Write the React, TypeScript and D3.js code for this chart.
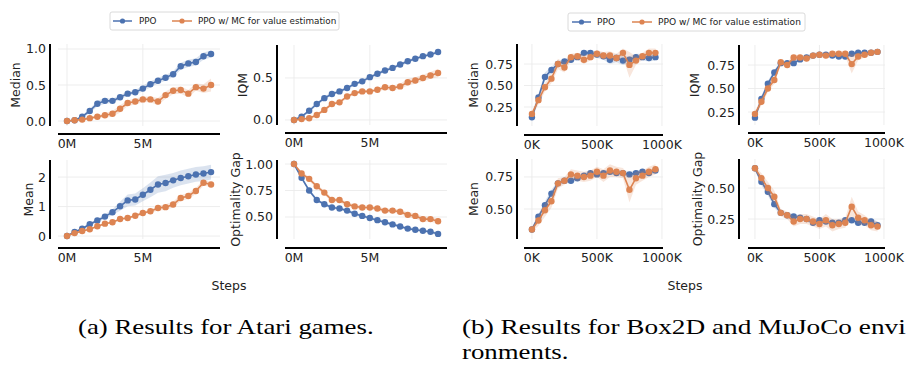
import React from 'react';
import * as d3 from 'd3';

const BLUE = '#4C72B0';
const ORANGE = '#DD8452';

// ---------- data ----------
const atariSteps = [0, 0.5, 1, 1.5, 2, 2.5, 3, 3.5, 4, 4.5, 5, 5.5, 6, 6.5, 7, 7.5, 8, 8.5, 9, 9.5];
const boxSteps = [0, 50, 100, 150, 200, 250, 300, 350, 400, 450, 500, 550, 600, 650, 700, 750, 800, 850, 900, 950];

const seriesNames = ['PPO', 'PPO w/ MC for value estimation'];

const atariMedianPPO = [0.0, 0.01, 0.06, 0.14, 0.24, 0.28, 0.28, 0.33, 0.38, 0.4, 0.45, 0.51, 0.56, 0.6, 0.65, 0.76, 0.8, 0.82, 0.9, 0.93];
const atariMedianPPOErr = [0.01, 0.01, 0.02, 0.03, 0.04, 0.04, 0.03, 0.03, 0.03, 0.03, 0.04, 0.04, 0.04, 0.04, 0.04, 0.05, 0.05, 0.05, 0.05, 0.05];
const atariMedianMC = [0.0, 0.01, 0.02, 0.04, 0.06, 0.08, 0.1, 0.17, 0.25, 0.27, 0.3, 0.3, 0.27, 0.36, 0.42, 0.43, 0.38, 0.47, 0.45, 0.5];
const atariMedianMCErr = [0.01, 0.01, 0.01, 0.02, 0.02, 0.03, 0.04, 0.05, 0.04, 0.04, 0.04, 0.04, 0.05, 0.05, 0.05, 0.05, 0.05, 0.05, 0.06, 0.09];

const atariIqmPPO = [0.0, 0.04, 0.11, 0.19, 0.26, 0.31, 0.34, 0.38, 0.43, 0.46, 0.51, 0.55, 0.59, 0.62, 0.66, 0.7, 0.73, 0.76, 0.78, 0.81];
const atariIqmPPOErr = [0.01, 0.01, 0.02, 0.02, 0.02, 0.02, 0.02, 0.02, 0.02, 0.02, 0.02, 0.02, 0.02, 0.02, 0.02, 0.02, 0.02, 0.02, 0.02, 0.02];
const atariIqmMC = [0.0, 0.01, 0.02, 0.06, 0.12, 0.19, 0.21, 0.28, 0.32, 0.34, 0.34, 0.36, 0.39, 0.38, 0.4, 0.45, 0.47, 0.5, 0.53, 0.56];
const atariIqmMCErr = [0.01, 0.01, 0.01, 0.02, 0.02, 0.02, 0.02, 0.02, 0.02, 0.02, 0.02, 0.02, 0.03, 0.03, 0.03, 0.04, 0.04, 0.04, 0.04, 0.05];

const atariMeanPPO = [0.0, 0.14, 0.25, 0.4, 0.53, 0.66, 0.81, 1.01, 1.21, 1.24, 1.4, 1.57, 1.75, 1.8, 1.89, 1.97, 2.03, 2.09, 2.12, 2.17];
const atariMeanPPOErr = [0.01, 0.03, 0.04, 0.05, 0.06, 0.08, 0.1, 0.15, 0.2, 0.2, 0.22, 0.25, 0.28, 0.28, 0.25, 0.25, 0.25, 0.25, 0.25, 0.25];
const atariMeanMC = [0.0, 0.1, 0.17, 0.23, 0.33, 0.42, 0.47, 0.58, 0.61, 0.69, 0.78, 0.84, 0.95, 0.98, 1.07, 1.29, 1.36, 1.53, 1.81, 1.75];
const atariMeanMCErr = [0.01, 0.02, 0.03, 0.03, 0.03, 0.03, 0.03, 0.04, 0.04, 0.05, 0.05, 0.06, 0.08, 0.1, 0.1, 0.1, 0.1, 0.1, 0.1, 0.08];

const atariGapPPO = [1.0, 0.87, 0.75, 0.66, 0.62, 0.59, 0.58, 0.56, 0.53, 0.51, 0.49, 0.47, 0.45, 0.43, 0.41, 0.39, 0.38, 0.37, 0.36, 0.34];
const atariGapPPOErr = [0.005, 0.015, 0.015, 0.015, 0.015, 0.015, 0.015, 0.015, 0.015, 0.015, 0.015, 0.015, 0.015, 0.015, 0.015, 0.015, 0.015, 0.015, 0.015, 0.015];
const atariGapMC = [1.0, 0.91, 0.86, 0.79, 0.73, 0.66, 0.66, 0.62, 0.6, 0.59, 0.59, 0.58, 0.56, 0.56, 0.55, 0.52, 0.51, 0.48, 0.48, 0.46];
const atariGapMCErr = [0.005, 0.02, 0.02, 0.02, 0.02, 0.02, 0.02, 0.02, 0.02, 0.02, 0.02, 0.02, 0.02, 0.02, 0.02, 0.025, 0.025, 0.025, 0.025, 0.025];

const boxMedianPPO = [0.13, 0.36, 0.6, 0.68, 0.75, 0.78, 0.8, 0.83, 0.88, 0.88, 0.86, 0.84, 0.8, 0.82, 0.79, 0.8, 0.83, 0.83, 0.82, 0.83];
const boxMedianPPOErr = [0.03, 0.04, 0.05, 0.04, 0.03, 0.03, 0.03, 0.03, 0.03, 0.03, 0.04, 0.04, 0.05, 0.05, 0.05, 0.04, 0.04, 0.04, 0.04, 0.04];
const boxMedianMC = [0.17, 0.33, 0.48, 0.58, 0.75, 0.71, 0.83, 0.84, 0.8, 0.83, 0.87, 0.85, 0.85, 0.82, 0.88, 0.74, 0.79, 0.84, 0.88, 0.88];
const boxMedianMCErr = [0.03, 0.05, 0.05, 0.05, 0.06, 0.06, 0.04, 0.04, 0.05, 0.04, 0.04, 0.04, 0.05, 0.05, 0.05, 0.15, 0.05, 0.04, 0.05, 0.05];

const boxIqmPPO = [0.19, 0.39, 0.55, 0.67, 0.77, 0.77, 0.77, 0.81, 0.83, 0.85, 0.86, 0.86, 0.85, 0.84, 0.84, 0.87, 0.88, 0.88, 0.88, 0.89];
const boxIqmPPOErr = [0.02, 0.03, 0.03, 0.03, 0.02, 0.02, 0.02, 0.02, 0.02, 0.02, 0.02, 0.02, 0.02, 0.02, 0.02, 0.02, 0.02, 0.02, 0.02, 0.02];
const boxIqmMC = [0.23, 0.36, 0.5, 0.59, 0.78, 0.75, 0.83, 0.83, 0.82, 0.85, 0.86, 0.85, 0.87, 0.87, 0.87, 0.76, 0.84, 0.86, 0.88, 0.89];
const boxIqmMCErr = [0.03, 0.04, 0.04, 0.04, 0.03, 0.03, 0.03, 0.03, 0.03, 0.03, 0.03, 0.03, 0.03, 0.03, 0.03, 0.1, 0.04, 0.03, 0.03, 0.03];

const boxMeanPPO = [0.34, 0.44, 0.53, 0.62, 0.7, 0.72, 0.72, 0.74, 0.76, 0.78, 0.77, 0.78, 0.79, 0.78, 0.78, 0.77, 0.78, 0.79, 0.78, 0.8];
const boxMeanPPOErr = [0.02, 0.02, 0.03, 0.03, 0.02, 0.02, 0.02, 0.02, 0.02, 0.02, 0.02, 0.02, 0.02, 0.02, 0.02, 0.02, 0.02, 0.02, 0.02, 0.02];
const boxMeanMC = [0.34, 0.41, 0.49, 0.56, 0.7, 0.72, 0.77, 0.76, 0.75, 0.76, 0.79, 0.76, 0.8, 0.79, 0.78, 0.65, 0.74, 0.76, 0.79, 0.81];
const boxMeanMCErr = [0.02, 0.04, 0.05, 0.05, 0.04, 0.03, 0.04, 0.04, 0.04, 0.04, 0.04, 0.05, 0.05, 0.04, 0.04, 0.1, 0.05, 0.04, 0.04, 0.04];

const boxGapPPO = [0.66, 0.55, 0.47, 0.37, 0.3, 0.28, 0.27, 0.26, 0.25, 0.22, 0.24, 0.23, 0.22, 0.22, 0.24, 0.24, 0.22, 0.22, 0.23, 0.2];
const boxGapPPOErr = [0.02, 0.03, 0.03, 0.03, 0.02, 0.02, 0.02, 0.02, 0.02, 0.02, 0.02, 0.02, 0.02, 0.02, 0.02, 0.02, 0.02, 0.02, 0.03, 0.03];
const boxGapMC = [0.66, 0.58, 0.5, 0.43, 0.3, 0.28, 0.23, 0.25, 0.25, 0.23, 0.21, 0.24, 0.2, 0.21, 0.22, 0.35, 0.26, 0.24, 0.2, 0.19];
const boxGapMCErr = [0.02, 0.04, 0.05, 0.05, 0.03, 0.03, 0.04, 0.04, 0.04, 0.04, 0.04, 0.05, 0.05, 0.04, 0.04, 0.08, 0.05, 0.04, 0.04, 0.04];

const atariXTicks = [0, 5];
const boxXTicks = [0, 500, 1000];

// ---------- layout ----------
type Panel = {
  x0: number; x1: number; y0: number; y1: number;
  spineX: number; axisY: number;
  xDomain: [number, number]; yDomain: [number, number];
  xs: number[]; xTicks: number[]; xFmt: (v: number) => string;
  yTicks: number[]; yFmt: (v: number) => string;
  label: string; labelX: number;
  ppo: number[]; ppoErr: number[]; mc: number[]; mcErr: number[];
};

const fmtM = (v: number) => `${v}M`;
const fmtK = (v: number) => `${v}K`;
const f1 = d3.format('.1f');
const f2 = d3.format('.2f');
const f0 = d3.format('d');

const panels: Panel[] = [
  { x0: 58, x1: 220, y0: 44, y1: 126, spineX: 50, axisY: 134, xDomain: [-0.594, 10.09], yDomain: [-0.069, 1.069],
    xs: atariSteps, xTicks: atariXTicks, xFmt: fmtM, yTicks: [0, 0.5, 1.0], yFmt: f1, label: 'Median', labelX: 15,
    ppo: atariMedianPPO, ppoErr: atariMedianPPOErr, mc: atariMedianMC, mcErr: atariMedianMCErr },
  { x0: 285, x1: 447, y0: 45, y1: 125, spineX: 277, axisY: 133, xDomain: [-0.594, 10.09], yDomain: [-0.06, 0.893],
    xs: atariSteps, xTicks: atariXTicks, xFmt: fmtM, yTicks: [0, 0.5], yFmt: f1, label: 'IQM', labelX: 242,
    ppo: atariIqmPPO, ppoErr: atariIqmPPOErr, mc: atariIqmMC, mcErr: atariIqmMCErr },
  { x0: 58, x1: 220, y0: 160, y1: 239, spineX: 50, axisY: 248, xDomain: [-0.594, 10.09], yDomain: [-0.1, 2.58],
    xs: atariSteps, xTicks: atariXTicks, xFmt: fmtM, yTicks: [0, 1, 2], yFmt: f0, label: 'Mean', labelX: 28,
    ppo: atariMeanPPO, ppoErr: atariMeanPPOErr, mc: atariMeanMC, mcErr: atariMeanMCErr },
  { x0: 285, x1: 447, y0: 160, y1: 239, spineX: 277, axisY: 248, xDomain: [-0.594, 10.09], yDomain: [0.292, 1.038],
    xs: atariSteps, xTicks: atariXTicks, xFmt: fmtM, yTicks: [0.5, 0.75, 1.0], yFmt: f2, label: 'Optimality Gap', labelX: 235,
    ppo: atariGapPPO, ppoErr: atariGapPPOErr, mc: atariGapMC, mcErr: atariGapMCErr },
  { x0: 524, x1: 663, y0: 44, y1: 126, spineX: 517, axisY: 135, xDomain: [-61, 1008], yDomain: [0.029, 0.983],
    xs: boxSteps, xTicks: boxXTicks, xFmt: fmtK, yTicks: [0.25, 0.5, 0.75], yFmt: f2, label: 'Median', labelX: 473,
    ppo: boxMedianPPO, ppoErr: boxMedianPPOErr, mc: boxMedianMC, mcErr: boxMedianMCErr },
  { x0: 748, x1: 885, y0: 45, y1: 125, spineX: 739, axisY: 133, xDomain: [-54, 1008], yDomain: [0.112, 0.963],
    xs: boxSteps, xTicks: boxXTicks, xFmt: fmtK, yTicks: [0.25, 0.5, 0.75], yFmt: f2, label: 'IQM', labelX: 694,
    ppo: boxIqmPPO, ppoErr: boxIqmPPOErr, mc: boxIqmMC, mcErr: boxIqmMCErr },
  { x0: 524, x1: 663, y0: 159, y1: 239, spineX: 517, axisY: 248, xDomain: [-61, 1008], yDomain: [0.266, 0.89],
    xs: boxSteps, xTicks: boxXTicks, xFmt: fmtK, yTicks: [0.5, 0.75], yFmt: f2, label: 'Mean', labelX: 473,
    ppo: boxMeanPPO, ppoErr: boxMeanPPOErr, mc: boxMeanMC, mcErr: boxMeanMCErr },
  { x0: 748, x1: 885, y0: 159, y1: 239, spineX: 739, axisY: 248, xDomain: [-54, 1008], yDomain: [0.089, 0.734],
    xs: boxSteps, xTicks: boxXTicks, xFmt: fmtK, yTicks: [0.25, 0.5], yFmt: f2, label: 'Optimality Gap', labelX: 697,
    ppo: boxGapPPO, ppoErr: boxGapPPOErr, mc: boxGapMC, mcErr: boxGapMCErr },
];

const SANS = 'DejaVu Sans, sans-serif';
const TICK_FS = 12.5;

function Series({ xs, ys, errs, color, x, y }: { xs: number[]; ys: number[]; errs: number[]; color: string; x: d3.ScaleLinear<number, number>; y: d3.ScaleLinear<number, number> }) {
  const idx = xs.map((_, i) => i);
  const area = d3.area<number>().x((i) => x(xs[i])).y0((i) => y(ys[i] - errs[i])).y1((i) => y(ys[i] + errs[i]));
  const line = d3.line<number>().x((i) => x(xs[i])).y((i) => y(ys[i]));
  return (
    <g>
      <path d={area(idx) || ''} fill={color} fillOpacity={0.2} stroke="none" />
      <path d={line(idx) || ''} fill="none" stroke={color} strokeWidth={1.6} />
      {idx.map((i) => (
        <circle key={i} cx={x(xs[i])} cy={y(ys[i])} r={3.2} fill={color} />
      ))}
    </g>
  );
}

function PanelView({ p }: { p: Panel }) {
  const x = d3.scaleLinear().domain(p.xDomain).range([p.x0, p.x1]);
  const y = d3.scaleLinear().domain(p.yDomain).range([p.y1, p.y0]);
  const cy = (p.y0 + p.y1) / 2;
  return (
    <g>
      {p.yTicks.map((t) => (
        <line key={'gy' + t} x1={p.x0} x2={p.x1} y1={y(t)} y2={y(t)} stroke="#ebebeb" strokeWidth={0.9} />
      ))}
      {p.xTicks.map((t) => (
        <line key={'gx' + t} x1={x(t)} x2={x(t)} y1={p.y0} y2={p.y1} stroke="#ebebeb" strokeWidth={0.9} />
      ))}
      <Series xs={p.xs} ys={p.ppo} errs={p.ppoErr} color={BLUE} x={x} y={y} />
      <Series xs={p.xs} ys={p.mc} errs={p.mcErr} color={ORANGE} x={x} y={y} />
      <line x1={p.spineX} x2={p.spineX} y1={p.y0} y2={p.y1} stroke="#000" strokeWidth={2} />
      <line x1={p.x0} x2={p.x1} y1={p.axisY} y2={p.axisY} stroke="#000" strokeWidth={2} />
      {p.yTicks.map((t) => (
        <text key={'ty' + t} x={p.spineX - 4} y={y(t)} textAnchor="end" dominantBaseline="central"
          fontFamily={SANS} fontSize={TICK_FS} fill="#222">{p.yFmt(t)}</text>
      ))}
      {p.xTicks.map((t) => (
        <text key={'tx' + t} x={x(t)} y={p.axisY + 4} dy="0.76em" textAnchor="middle"
          fontFamily={SANS} fontSize={TICK_FS} fill="#222">{p.xFmt(t)}</text>
      ))}
      <text transform={`translate(${p.labelX},${cy}) rotate(-90)`} textAnchor="middle" dominantBaseline="central"
        fontFamily={SANS} fontSize={TICK_FS} fill="#222">{p.label}</text>
    </g>
  );
}

function Legend({ x, y, w, h, fs, items }: { x: number; y: number; w: number; h: number; fs: number; items: { l0: number; l1: number; tx: number }[] }) {
  const cy = y + h / 2;
  const colors = [BLUE, ORANGE];
  return (
    <g>
      <rect x={x} y={y} width={w} height={h} rx={2} fill="#fff" stroke="#d0d0d0" strokeWidth={0.8} />
      {items.map((it, i) => (
        <g key={i}>
          <line x1={it.l0} x2={it.l1} y1={cy} y2={cy} stroke={colors[i]} strokeWidth={1.5} />
          <circle cx={(it.l0 + it.l1) / 2} cy={cy} r={2.6} fill={colors[i]} />
          <text x={it.tx} y={cy} dominantBaseline="central" fontFamily={SANS} fontSize={fs} fill="#222">{seriesNames[i]}</text>
        </g>
      ))}
    </g>
  );
}

export default function App() {
  return (
    <svg width={906} height={365} style={{ position: 'absolute', left: 0, top: 0, background: '#fff' }}>
      <rect x={0} y={0} width={906} height={365} fill="#fff" />
      <Legend x={110} y={12} w={229} h={18} fs={8.8} items={[{ l0: 113, l1: 132, tx: 139 }, { l0: 172, l1: 192, tx: 198 }]} />
      <Legend x={568} y={13} w={237} h={18} fs={9.1} items={[{ l0: 572, l1: 591, tx: 597 }, { l0: 632, l1: 652, tx: 658 }]} />
      {panels.map((p, i) => <PanelView key={i} p={p} />)}
      <text x={229} y={285} textAnchor="middle" dominantBaseline="central" fontFamily={SANS} fontSize={TICK_FS} fill="#222">Steps</text>
      <text x={685} y={285} textAnchor="middle" dominantBaseline="central" fontFamily={SANS} fontSize={TICK_FS} fill="#222">Steps</text>
      <text transform="translate(78,334) scale(1.22,1)" fontFamily="Liberation Serif, serif" fontSize={22} fill="#000">(a) Results for Atari games.</text>
      <text transform="translate(462,334) scale(1.24,1)" fontFamily="Liberation Serif, serif" fontSize={22} fill="#000">(b) Results for Box2D and MuJoCo envi</text>
      <text transform="translate(462,359) scale(1.22,1)" fontFamily="Liberation Serif, serif" fontSize={22} fill="#000">ronments.</text>
    </svg>
  );
}
